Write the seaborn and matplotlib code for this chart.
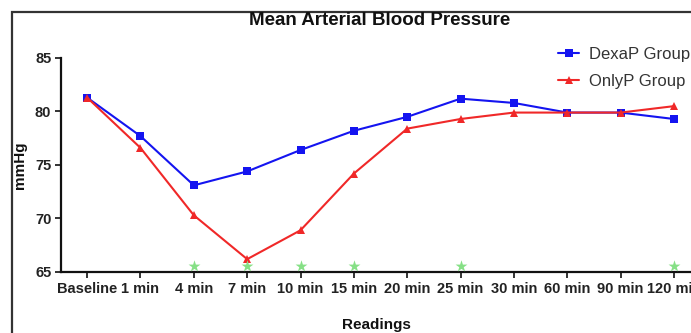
import numpy as np
import pandas as pd
import matplotlib
matplotlib.use("Agg")
import matplotlib.pyplot as plt
from matplotlib.patches import Rectangle
import seaborn as sns

readings = ["Baseline", "1 min", "4 min", "7 min", "10 min", "15 min",
            "20 min", "25 min", "30 min", "60 min", "90 min", "120 min"]
dexap = [81.3, 77.7, 73.1, 74.4, 76.4, 78.2, 79.5, 81.2, 80.8, 79.9, 79.9, 79.3]
onlyp = [81.3, 76.6, 70.3, 66.2, 68.9, 74.2, 78.4, 79.3, 79.9, 79.9, 79.9, 80.5]
sig_readings = ["4 min", "7 min", "10 min", "15 min", "25 min", "120 min"]
sig_level = 65.6

sns.set_theme(style="ticks")
plt.rcParams["font.family"] = ["Liberation Sans", "DejaVu Sans"]

df = pd.DataFrame({
    "Readings": readings * 2,
    "mmHg": dexap + onlyp,
    "Group": ["DexaP Group"] * len(readings) + ["OnlyP Group"] * len(readings),
})

fig = plt.figure(figsize=(6.91, 3.33), dpi=100)
ax = fig.add_axes([61 / 691, 61 / 333, 630 / 691, 214 / 333])

palette = {"DexaP Group": "#1414f0", "OnlyP Group": "#f02828"}
markers = {"DexaP Group": "s", "OnlyP Group": "^"}
sns.lineplot(data=df, x="Readings", y="mmHg", hue="Group", style="Group",
             palette=palette, markers=markers, dashes=False, markersize=6,
             markeredgewidth=0, linewidth=1.5, ax=ax, sort=False)

# significance asterisks
ax.scatter(sig_readings, [sig_level] * len(sig_readings), marker="*",
           s=80, color="#86e086", zorder=5, linewidths=0)

ax.set_ylim(65, 85)
ax.set_yticks([65, 70, 75, 80, 85])
ax.set_xlim(-0.49, 11.32)
sns.despine(ax=ax)
for s in ["left", "bottom"]:
    ax.spines[s].set_linewidth(1.6)
    ax.spines[s].set_color("#111111")
ax.tick_params(axis="both", width=1.2, length=4, color="#111111",
               labelsize=10.5, pad=3)
for lab in ax.get_xticklabels() + ax.get_yticklabels():
    lab.set_fontweight("bold")
    lab.set_color("#222222")

ax.set_xlabel("Readings", fontsize=11, fontweight="bold", labelpad=16, color="#111111")
ax.set_ylabel("mmHg", fontsize=11, fontweight="bold", color="#111111")
ax.yaxis.set_label_coords(-0.054, 0.5)
fig.text(0.55, 0.937, "Mean Arterial Blood Pressure", ha="center", va="center",
         fontsize=13.5, fontweight="bold", color="#111111")

leg = ax.legend(loc="upper left", bbox_to_anchor=(551 / 691, 1 - 40 / 333),
                bbox_transform=fig.transFigure, frameon=False, fontsize=12,
                handlelength=1.3, handletextpad=0.6, labelspacing=0.75,
                borderaxespad=0, title=None)
for t in leg.get_texts():
    t.set_color("#333333")

fig.patches.append(Rectangle((12 / 691, -0.1), 1.2, 1.1 - 12 / 333,
                             transform=fig.transFigure, fill=False,
                             edgecolor="#333333", linewidth=1.6, zorder=0))

fig.savefig("out.png", dpi=100)
